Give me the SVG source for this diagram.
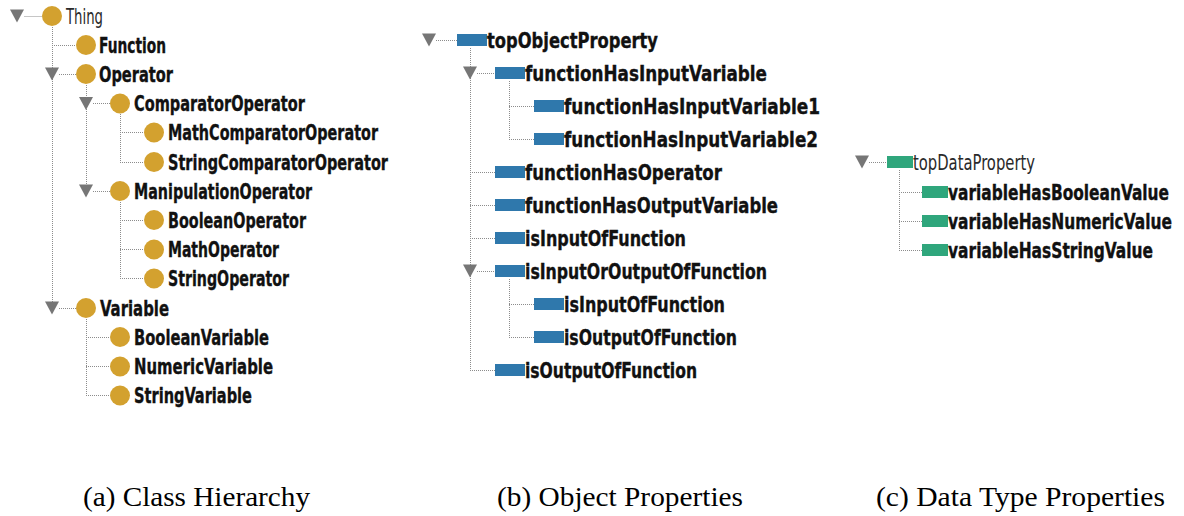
<svg xmlns="http://www.w3.org/2000/svg" xmlns:xlink="http://www.w3.org/1999/xlink" width="1184" height="516" viewBox="0 0 1184 516">
  <style>
    .dot { stroke: #8c8c8c; stroke-width: 1; stroke-dasharray: 1 1; fill: none; }
    .tri { fill: #767676; }
    .cls { fill: #D3A12F; }
    .op  { fill: #2F78AC; }
    .dp  { fill: #2FA67C; }
    .lbl { font-family: "DejaVu Sans Condensed", "DejaVu Sans", sans-serif; font-stretch: condensed; font-weight: bold; font-size: 21px; fill: #111; stroke: #111; stroke-width: 0.35; }
    .tall { font-size: 17px; stroke-width: 0.3; }
    .thin { font-weight: normal; fill: #2a2a2a; stroke: none; }
    .cap { font-family: "Liberation Serif", "Times New Roman", serif; font-size: 28px; fill: #000; }
  </style>
  <defs>
    <path id="tri" class="tri" d="M-7,-6.5 H7 L0,6.5 Z"/>
    <circle id="ball" class="cls" r="10"/>
    <rect id="bar" class="op" x="-15" y="-6" width="30" height="12"/>
    <rect id="dbar" class="dp" x="-13" y="-6" width="26" height="12"/>
  </defs>
  <rect width="1184" height="516" fill="#fff"/>

  <!-- tree lines -->
  <g id="connectors" class="dot">
    <!-- class hierarchy -->
    <path d="M24.5,16.5 H42"/>
    <path d="M52.5,27 V308.5"/>
    <path d="M52,45.5 H76 M59,74.5 H76 M59,308.5 H76"/>
    <path d="M86.5,85 V191.5"/>
    <path d="M93,103.5 H110 M93,191.5 H110"/>
    <path d="M120.5,114 V162.5"/>
    <path d="M120,132.5 H144 M120,162.5 H144"/>
    <path d="M120.5,202 V278.5"/>
    <path d="M120,220.5 H144 M120,249.5 H144 M120,278.5 H144"/>
    <path d="M86.5,319 V395.5"/>
    <path d="M86,337.5 H110 M86,366.5 H110 M86,395.5 H110"/>
    <!-- object properties -->
    <path d="M436,40.5 H457"/>
    <path d="M470.5,48 V370.5"/>
    <path d="M477,73.5 H495 M470,172.5 H495 M470,205.5 H495 M470,238.5 H495 M477,271.5 H495 M470,370.5 H495"/>
    <path d="M509.5,81 V139.5"/>
    <path d="M509,106.5 H534 M509,139.5 H534"/>
    <path d="M509.5,279 V337.5"/>
    <path d="M509,304.5 H534 M509,337.5 H534"/>
    <!-- data properties -->
    <path d="M869,162.5 H887"/>
    <path d="M899.5,170 V250.5"/>
    <path d="M899,192.5 H922 M899,221.5 H922 M899,250.5 H922"/>
  </g>

  <!-- (a) class hierarchy -->
  <g id="thing"><use xlink:href="#tri" x="17" y="16"/><use xlink:href="#ball" x="52" y="16"/><text class="lbl thin" x="66" y="23.5" textLength="37" lengthAdjust="spacingAndGlyphs">Thing</text></g>
  <g id="function"><use xlink:href="#ball" x="86" y="45"/><text class="lbl" x="99" y="52.5" textLength="67" lengthAdjust="spacingAndGlyphs">Function</text></g>
  <g id="operator"><use xlink:href="#tri" x="52" y="74"/><use xlink:href="#ball" x="86" y="74"/><text class="lbl" x="99" y="81.5" textLength="74" lengthAdjust="spacingAndGlyphs">Operator</text></g>
  <g id="comparator-operator"><use xlink:href="#tri" x="86" y="103.5"/><use xlink:href="#ball" x="120" y="103.5"/><text class="lbl" x="134" y="111" textLength="171" lengthAdjust="spacingAndGlyphs">ComparatorOperator</text></g>
  <g id="math-comparator-operator"><use xlink:href="#ball" x="154" y="132.5"/><text class="lbl" x="168" y="140" textLength="210" lengthAdjust="spacingAndGlyphs">MathComparatorOperator</text></g>
  <g id="string-comparator-operator"><use xlink:href="#ball" x="154" y="162"/><text class="lbl" x="168" y="169.5" textLength="220" lengthAdjust="spacingAndGlyphs">StringComparatorOperator</text></g>
  <g id="manipulation-operator"><use xlink:href="#tri" x="86" y="191"/><use xlink:href="#ball" x="120" y="191"/><text class="lbl" x="134" y="198.5" textLength="178" lengthAdjust="spacingAndGlyphs">ManipulationOperator</text></g>
  <g id="boolean-operator"><use xlink:href="#ball" x="154" y="220"/><text class="lbl" x="168" y="227.5" textLength="138" lengthAdjust="spacingAndGlyphs">BooleanOperator</text></g>
  <g id="math-operator"><use xlink:href="#ball" x="154" y="249.5"/><text class="lbl" x="168" y="257" textLength="111" lengthAdjust="spacingAndGlyphs">MathOperator</text></g>
  <g id="string-operator"><use xlink:href="#ball" x="154" y="278.5"/><text class="lbl" x="168" y="286" textLength="121" lengthAdjust="spacingAndGlyphs">StringOperator</text></g>
  <g id="variable"><use xlink:href="#tri" x="52" y="308"/><use xlink:href="#ball" x="86" y="308"/><text class="lbl" x="100" y="315.5" textLength="69" lengthAdjust="spacingAndGlyphs">Variable</text></g>
  <g id="boolean-variable"><use xlink:href="#ball" x="120" y="337"/><text class="lbl" x="134" y="344.5" textLength="135" lengthAdjust="spacingAndGlyphs">BooleanVariable</text></g>
  <g id="numeric-variable"><use xlink:href="#ball" x="120" y="366.5"/><text class="lbl" x="134" y="374" textLength="139" lengthAdjust="spacingAndGlyphs">NumericVariable</text></g>
  <g id="string-variable"><use xlink:href="#ball" x="120" y="395.5"/><text class="lbl" x="134" y="403" textLength="118" lengthAdjust="spacingAndGlyphs">StringVariable</text></g>

  <!-- (b) object properties -->
  <g id="top-object-property"><use xlink:href="#tri" x="429" y="40"/><use xlink:href="#bar" x="472" y="40"/><text class="lbl" x="487" y="47.5" textLength="171" lengthAdjust="spacingAndGlyphs">topObjectProperty</text></g>
  <g id="function-has-input-variable"><use xlink:href="#tri" x="470" y="73"/><use xlink:href="#bar" x="510" y="73"/><text class="lbl" x="525" y="80.5" textLength="242" lengthAdjust="spacingAndGlyphs">functionHasInputVariable</text></g>
  <g id="function-has-input-variable1"><use xlink:href="#bar" x="549" y="106"/><text class="lbl" x="564" y="113.5" textLength="256" lengthAdjust="spacingAndGlyphs">functionHasInputVariable1</text></g>
  <g id="function-has-input-variable2"><use xlink:href="#bar" x="549" y="139"/><text class="lbl" x="564" y="146.5" textLength="254" lengthAdjust="spacingAndGlyphs">functionHasInputVariable2</text></g>
  <g id="function-has-operator"><use xlink:href="#bar" x="510" y="172"/><text class="lbl" x="525" y="179.5" textLength="197" lengthAdjust="spacingAndGlyphs">functionHasOperator</text></g>
  <g id="function-has-output-variable"><use xlink:href="#bar" x="510" y="205"/><text class="lbl" x="525" y="212.5" textLength="253" lengthAdjust="spacingAndGlyphs">functionHasOutputVariable</text></g>
  <g id="is-input-of-function"><use xlink:href="#bar" x="510" y="238"/><text class="lbl" x="525" y="245.5" textLength="161" lengthAdjust="spacingAndGlyphs">isInputOfFunction</text></g>
  <g id="is-input-or-output-of-function"><use xlink:href="#tri" x="470" y="271"/><use xlink:href="#bar" x="510" y="271"/><text class="lbl" x="525" y="278.5" textLength="242" lengthAdjust="spacingAndGlyphs">isInputOrOutputOfFunction</text></g>
  <g id="sub-is-input-of-function"><use xlink:href="#bar" x="549" y="304"/><text class="lbl" x="564" y="311.5" textLength="161" lengthAdjust="spacingAndGlyphs">isInputOfFunction</text></g>
  <g id="sub-is-output-of-function"><use xlink:href="#bar" x="549" y="337"/><text class="lbl" x="564" y="344.5" textLength="173" lengthAdjust="spacingAndGlyphs">isOutputOfFunction</text></g>
  <g id="is-output-of-function"><use xlink:href="#bar" x="510" y="370"/><text class="lbl" x="525" y="377.5" textLength="172" lengthAdjust="spacingAndGlyphs">isOutputOfFunction</text></g>

  <!-- (c) data type properties: labels set smaller and stretched upright to stay inside the right edge -->
  <g id="top-data-property"><use xlink:href="#tri" x="862" y="162"/><use xlink:href="#dbar" x="900" y="162"/><text class="lbl thin" x="913" y="169.5" textLength="122" lengthAdjust="spacingAndGlyphs">topDataProperty</text></g>
  <g id="variable-has-boolean-value"><use xlink:href="#dbar" x="935" y="192"/><text class="lbl tall" transform="translate(948,199.5) scale(1,1.235)" x="0" y="0" textLength="221" lengthAdjust="spacingAndGlyphs">variableHasBooleanValue</text></g>
  <g id="variable-has-numeric-value"><use xlink:href="#dbar" x="935" y="221"/><text class="lbl tall" transform="translate(948,228.5) scale(1,1.235)" x="0" y="0" textLength="224" lengthAdjust="spacingAndGlyphs">variableHasNumericValue</text></g>
  <g id="variable-has-string-value"><use xlink:href="#dbar" x="935" y="250"/><text class="lbl tall" transform="translate(948,257.5) scale(1,1.235)" x="0" y="0" textLength="205" lengthAdjust="spacingAndGlyphs">variableHasStringValue</text></g>

  <!-- sub-figure captions -->
  <g id="captions">
    <text class="cap" x="83" y="506" textLength="227" lengthAdjust="spacingAndGlyphs">(a) Class Hierarchy</text>
    <text class="cap" x="497" y="506" textLength="246" lengthAdjust="spacingAndGlyphs">(b) Object Properties</text>
    <text class="cap" x="876" y="506" textLength="289" lengthAdjust="spacingAndGlyphs">(c) Data Type Properties</text>
  </g>
</svg>
